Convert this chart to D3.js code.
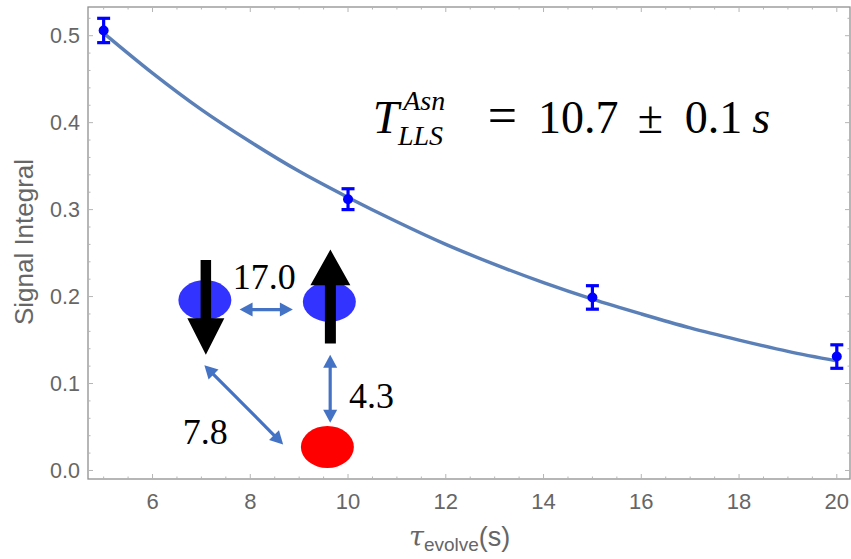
<!DOCTYPE html>
<html>
<head>
<meta charset="utf-8">
<script src="https://cdn.jsdelivr.net/npm/d3@7"></script>
<style>
  body { margin: 0; background: #fff; }
  svg { display: block; }
</style>
</head>
<body>
<div id="chart-area"></div>
<script>
// measured points with error bars
var evolveTimes = [5, 10, 15, 20];
var signalValues = [0.506, 0.312, 0.199, 0.131];
var signalErrors = [0.014, 0.012, 0.0135, 0.0135];

// fitted decay curve
var fitTimes = [5, 6, 7, 8, 9, 10, 11, 12, 13, 14, 15, 16, 17, 18, 19, 20];
var fitValues = [0.503, 0.457, 0.415, 0.378, 0.344, 0.314, 0.286, 0.260, 0.237, 0.216, 0.197, 0.180, 0.164, 0.150, 0.137, 0.126];

var xTicks = [6, 8, 10, 12, 14, 16, 18, 20];
var yTicks = [0.0, 0.1, 0.2, 0.3, 0.4, 0.5];

var W = 851, H = 559;
var margin = {left: 88, top: 7, right: 1, bottom: 80};

var svg = d3.select("#chart-area").append("svg")
    .attr("width", W)
    .attr("height", H);

var x = d3.scaleLinear().domain([4.68, 20.27]).range([margin.left, W - margin.right]);
var y = d3.scaleLinear().domain([-0.0098, 0.533]).range([H - margin.bottom, margin.top]);

var frameColor = "#909090";
var labelColor = "#666";

// frame
svg.append("rect")
    .attr("x", x.range()[0])
    .attr("y", y.range()[1])
    .attr("width", x.range()[1] - x.range()[0])
    .attr("height", y.range()[0] - y.range()[1])
    .attr("fill", "none")
    .attr("stroke", frameColor)
    .attr("stroke-width", 1.3);

// ticks (inside frame, all four sides)
var xMinor = d3.range(5, 20.01, 0.5);
var yMinor = d3.range(0, 0.531, 0.02);
var tk = svg.append("g").attr("stroke", "#b5b5b5").attr("stroke-width", 1);
xMinor.forEach(function(v) {
    var len = xTicks.indexOf(v) >= 0 ? 5 : 2.5;
    tk.append("line").attr("x1", x(v)).attr("x2", x(v)).attr("y1", y.range()[0]).attr("y2", y.range()[0] - len);
    tk.append("line").attr("x1", x(v)).attr("x2", x(v)).attr("y1", y.range()[1]).attr("y2", y.range()[1] + len);
});
yMinor.forEach(function(v) {
    var major = Math.abs(v * 10 - Math.round(v * 10)) < 1e-6;
    var len = major ? 5 : 2.5;
    tk.append("line").attr("y1", y(v)).attr("y2", y(v)).attr("x1", x.range()[0]).attr("x2", x.range()[0] + len);
    tk.append("line").attr("y1", y(v)).attr("y2", y(v)).attr("x1", x.range()[1]).attr("x2", x.range()[1] - len);
});

// tick labels
svg.selectAll(".xlab").data(xTicks).enter().append("text")
    .attr("class", "xlab")
    .attr("x", function(d) { return x(d); })
    .attr("y", y.range()[0] + 30)
    .attr("text-anchor", "middle")
    .attr("font-family", "Liberation Sans, Arial, sans-serif")
    .attr("font-size", 22)
    .attr("fill", labelColor)
    .text(function(d) { return d; });

svg.selectAll(".ylab").data(yTicks).enter().append("text")
    .attr("class", "ylab")
    .attr("x", x.range()[0] - 8)
    .attr("y", function(d) { return y(d); })
    .attr("dy", "0.36em")
    .attr("text-anchor", "end")
    .attr("font-family", "Liberation Sans, Arial, sans-serif")
    .attr("font-size", 21.5)
    .attr("fill", labelColor)
    .text(function(d) { return d.toFixed(1); });

// axis titles
svg.append("text")
    .attr("transform", "translate(33," + 242 + ") rotate(-90)")
    .attr("text-anchor", "middle")
    .attr("font-family", "Liberation Sans, Arial, sans-serif")
    .attr("font-size", 26)
    .attr("fill", labelColor)
    .text("Signal Integral");

var xt = svg.append("text")
    .attr("x", 409)
    .attr("y", 546)
    .attr("font-family", "Liberation Sans, Arial, sans-serif")
    .attr("font-size", 27)
    .attr("fill", labelColor);
xt.append("tspan").attr("font-family", "DejaVu Serif, serif").attr("font-style", "italic").text("τ");
xt.append("tspan").attr("font-size", 19).attr("dy", 5).text("evolve");
xt.append("tspan").attr("dy", -5).text("(s)");

// fit curve
var line = d3.line()
    .x(function(d, i) { return x(fitTimes[i]); })
    .y(function(d) { return y(d); })
    .curve(d3.curveMonotoneX);

svg.append("path")
    .datum(fitValues)
    .attr("d", line)
    .attr("fill", "none")
    .attr("stroke", "#5b80b8")
    .attr("stroke-width", 3.4);

// error bars + points
var pts = svg.selectAll(".pt").data(signalValues).enter().append("g").attr("class", "pt");
pts.append("line")
    .attr("x1", function(d, i) { return x(evolveTimes[i]); })
    .attr("x2", function(d, i) { return x(evolveTimes[i]); })
    .attr("y1", function(d, i) { return y(d - signalErrors[i]); })
    .attr("y2", function(d, i) { return y(d + signalErrors[i]); })
    .attr("stroke", "#0000ff").attr("stroke-width", 3.2);
[-1, 1].forEach(function(s) {
    pts.append("line")
        .attr("x1", function(d, i) { return x(evolveTimes[i]) - 6.5; })
        .attr("x2", function(d, i) { return x(evolveTimes[i]) + 6.5; })
        .attr("y1", function(d, i) { return y(d + s * signalErrors[i]); })
        .attr("y2", function(d, i) { return y(d + s * signalErrors[i]); })
        .attr("stroke", "#0000ff").attr("stroke-width", 3.2);
});
pts.append("circle")
    .attr("cx", function(d, i) { return x(evolveTimes[i]); })
    .attr("cy", function(d) { return y(d); })
    .attr("r", 5)
    .attr("fill", "#0000ff");

// ---- spin diagram (positions in data units) ----
var blueSpins = [[7.071, 0.196], [9.618, 0.194]];
var redSpin = [9.578, 0.027];

svg.selectAll(".spin").data(blueSpins).enter().append("ellipse")
    .attr("cx", function(d) { return x(d[0]); })
    .attr("cy", function(d) { return y(d[1]); })
    .attr("rx", 26.5).attr("ry", 20)
    .attr("fill", "#3333ff");

svg.append("ellipse")
    .attr("cx", x(redSpin[0])).attr("cy", y(redSpin[1]))
    .attr("rx", 26.5).attr("ry", 21)
    .attr("fill", "#ff0000");

// black spin arrows: [x, tail y, head base y, tip y, shaft width, head width]
var spinArrows = [[7.091, 0.242, 0.175, 0.133, 10.5, 37], [9.639, 0.146, 0.213, 0.254, 11, 40]];
spinArrows.forEach(function(a) {
    var cx = x(a[0]), ty = y(a[1]), by = y(a[2]), tip = y(a[3]);
    var sw = a[4] / 2, hw = a[5] / 2;
    svg.append("path")
        .attr("d", "M" + (cx - sw) + "," + ty + "L" + (cx + sw) + "," + ty +
            "L" + (cx + sw) + "," + by + "L" + (cx + hw) + "," + by +
            "L" + cx + "," + tip + "L" + (cx - hw) + "," + by +
            "L" + (cx - sw) + "," + by + "Z")
        .attr("fill", "#000");
});

// blue double-headed arrows
var couplings = [
    [[7.781, 0.185], [8.871, 0.185]],
    [[9.635, 0.133], [9.635, 0.055]],
    [[7.061, 0.121], [8.673, 0.030]]
];
function dblArrow(p, q) {
    var x1 = x(p[0]), y1 = y(p[1]), x2 = x(q[0]), y2 = y(q[1]);
    var dx = x2 - x1, dy = y2 - y1, L = Math.sqrt(dx * dx + dy * dy);
    var ux = dx / L, uy = dy / L, nx = -uy, ny = ux;
    var hl = 13, hw = 7;
    svg.append("line")
        .attr("x1", x1 + ux * hl * 0.8).attr("y1", y1 + uy * hl * 0.8)
        .attr("x2", x2 - ux * hl * 0.8).attr("y2", y2 - uy * hl * 0.8)
        .attr("stroke", "#4472c4").attr("stroke-width", 3.2);
    [[x1, y1, 1], [x2, y2, -1]].forEach(function(e) {
        var bx = e[0] + e[2] * ux * hl, by = e[1] + e[2] * uy * hl;
        svg.append("path")
            .attr("d", "M" + e[0] + "," + e[1] + "L" + (bx + nx * hw) + "," + (by + ny * hw) +
                "L" + (bx - nx * hw) + "," + (by - ny * hw) + "Z")
            .attr("fill", "#4472c4");
    });
}
couplings.forEach(function(c) { dblArrow(c[0], c[1]); });

var couplingLabels = ["17.0", "4.3", "7.8"];
var couplingLabelPos = [[7.643, 0.209], [10.02, 0.072], [6.619, 0.030]];
couplingLabels.forEach(function(t, i) {
    svg.append("text")
        .attr("x", x(couplingLabelPos[i][0]))
        .attr("y", y(couplingLabelPos[i][1]))
        .attr("font-family", "Liberation Serif, Times New Roman, serif")
        .attr("font-size", 36)
        .attr("fill", "#000")
        .text(t);
});

// T1 formula
var serif = "Liberation Serif, Times New Roman, serif";
svg.append("text").attr("x", x(10.508)).attr("y", y(0.388))
    .attr("font-family", serif).attr("font-style", "italic").attr("font-size", 47).text("T");
svg.append("text").attr("x", x(11.13)).attr("y", y(0.414))
    .attr("font-family", serif).attr("font-style", "italic").attr("font-size", 28).text("Asn");
svg.append("text").attr("x", x(11.02)).attr("y", y(0.374))
    .attr("font-family", serif).attr("font-style", "italic").attr("font-size", 28).text("LLS");
var formulaParts = ["=", "10.7", "±", "0.1", "s"];
var formulaX = [12.86, 13.886, 15.93, 16.89, 18.27];
formulaParts.forEach(function(t, i) {
    svg.append("text").attr("x", x(formulaX[i])).attr("y", y(0.388))
        .attr("font-family", serif)
        .attr("font-style", t === "s" ? "italic" : "normal")
        .attr("font-size", t === "=" ? 52 : 46)
        .text(t);
});
</script>
</body>
</html>
